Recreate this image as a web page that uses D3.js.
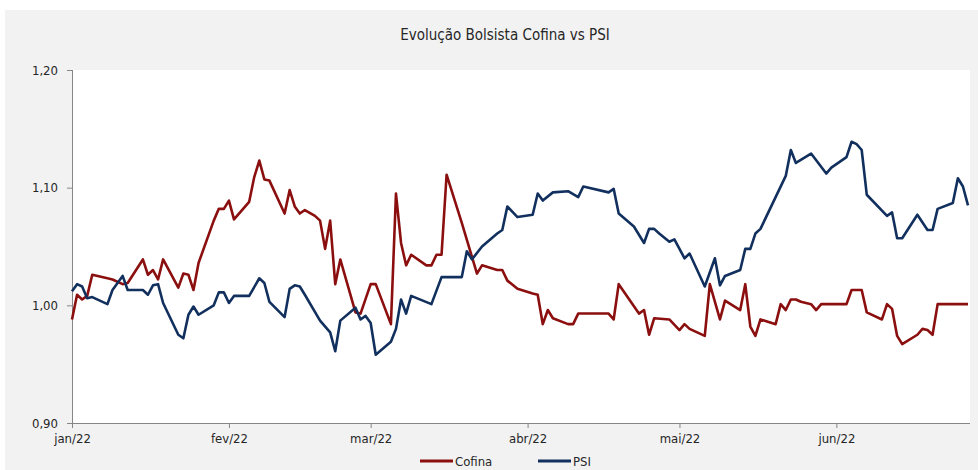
<!DOCTYPE html>
<html>
<head>
<meta charset="utf-8">
<script src="https://cdn.jsdelivr.net/npm/d3@7"></script>
<style>
  body { margin: 0; background: #fff; }
  text { font-family: "Liberation Sans Narrow", "Arial Narrow", "DejaVu Sans Condensed", sans-serif; fill: #262626; }
</style>
</head>
<body>
<div id="chart"></div>
<script>
// Evolução bolsista Cofina vs PSI (base 1)

const cofinaDates = ["2022-01-03","2022-01-04","2022-01-05","2022-01-06","2022-01-07","2022-01-10","2022-01-11","2022-01-13","2022-01-14","2022-01-17","2022-01-18","2022-01-19","2022-01-20","2022-01-21","2022-01-24","2022-01-25","2022-01-26","2022-01-27","2022-01-28","2022-01-31",
  "2022-02-01","2022-02-02","2022-02-03","2022-02-04","2022-02-07","2022-02-08","2022-02-09","2022-02-10","2022-02-11","2022-02-14","2022-02-15","2022-02-16","2022-02-17","2022-02-18","2022-02-20","2022-02-21","2022-02-22","2022-02-23","2022-02-24","2022-02-25","2022-02-28",
  "2022-03-01","2022-03-03","2022-03-04","2022-03-07","2022-03-08","2022-03-09","2022-03-10","2022-03-11","2022-03-14","2022-03-15","2022-03-16","2022-03-17","2022-03-18","2022-03-21","2022-03-24","2022-03-25","2022-03-28","2022-03-29","2022-03-30",
  "2022-04-01","2022-04-04","2022-04-05","2022-04-06","2022-04-07","2022-04-08","2022-04-11","2022-04-12","2022-04-13","2022-04-19","2022-04-20","2022-04-21","2022-04-25","2022-04-26","2022-04-27","2022-04-28",
  "2022-05-01","2022-05-03","2022-05-04","2022-05-05","2022-05-08","2022-05-09","2022-05-11","2022-05-12","2022-05-15","2022-05-16","2022-05-17","2022-05-18","2022-05-19","2022-05-22","2022-05-23","2022-05-24","2022-05-25","2022-05-26","2022-05-27","2022-05-29","2022-05-30","2022-05-31",
  "2022-06-05","2022-06-06","2022-06-08","2022-06-09","2022-06-12","2022-06-13","2022-06-14","2022-06-15","2022-06-16","2022-06-19","2022-06-20","2022-06-21","2022-06-22","2022-06-23","2022-06-29"];
const cofinaValues = [0.988,1.009,1.005,1.008,1.026,1.023,1.022,1.018,1.019,1.039,1.026,1.030,1.022,1.039,1.015,1.027,1.026,1.013,1.036,1.072,
  1.082,1.082,1.089,1.073,1.088,1.109,1.123,1.107,1.106,1.078,1.098,1.084,1.078,1.081,1.076,1.072,1.048,1.072,1.018,1.039,0.994,
  0.993,1.018,1.018,0.984,1.095,1.053,1.034,1.043,1.034,1.034,1.043,1.043,1.111,1.070,1.027,1.034,1.030,1.030,1.021,
  1.014,1.010,1.009,0.984,0.996,0.989,0.984,0.984,0.993,0.993,0.988,1.018,0.993,0.996,0.975,0.989,
  0.988,0.979,0.984,0.980,0.974,1.018,0.988,1.004,0.996,1.018,0.982,0.974,0.988,0.984,1.001,0.996,1.005,1.005,1.003,1.001,0.996,1.001,
  1.001,1.013,1.013,0.994,0.988,1.001,0.997,0.974,0.967,0.975,0.980,0.979,0.975,1.001,1.001];

const psiDates = ["2022-01-03","2022-01-04","2022-01-05","2022-01-06","2022-01-07","2022-01-10","2022-01-11","2022-01-13","2022-01-14","2022-01-17","2022-01-18","2022-01-19","2022-01-20","2022-01-21","2022-01-24","2022-01-25","2022-01-26","2022-01-27","2022-01-28","2022-01-31",
  "2022-02-01","2022-02-02","2022-02-03","2022-02-04","2022-02-07","2022-02-09","2022-02-10","2022-02-11","2022-02-14","2022-02-15","2022-02-16","2022-02-17","2022-02-18","2022-02-21","2022-02-23","2022-02-24","2022-02-25","2022-02-28",
  "2022-03-01","2022-03-02","2022-03-03","2022-03-04","2022-03-07","2022-03-08","2022-03-09","2022-03-10","2022-03-11","2022-03-15","2022-03-17","2022-03-21","2022-03-22","2022-03-23","2022-03-25","2022-03-28","2022-03-29","2022-03-30",
  "2022-04-01","2022-04-04","2022-04-05","2022-04-06","2022-04-08","2022-04-11","2022-04-13","2022-04-14","2022-04-19","2022-04-20","2022-04-21","2022-04-24","2022-04-26","2022-04-27","2022-04-28","2022-04-29",
  "2022-05-01","2022-05-02","2022-05-04","2022-05-05","2022-05-08","2022-05-10","2022-05-11","2022-05-12","2022-05-15","2022-05-16","2022-05-17","2022-05-18","2022-05-19","2022-05-24","2022-05-25","2022-05-26","2022-05-29",
  "2022-06-01","2022-06-02","2022-06-05","2022-06-06","2022-06-07","2022-06-08","2022-06-09","2022-06-13","2022-06-14","2022-06-15","2022-06-16","2022-06-19","2022-06-21","2022-06-22","2022-06-23","2022-06-26","2022-06-27","2022-06-28","2022-06-29"];
const psiValues = [1.012,1.018,1.016,1.006,1.007,1.001,1.013,1.025,1.013,1.013,1.009,1.017,1.018,1.002,0.975,0.972,0.992,0.999,0.992,1.000,
  1.011,1.011,1.002,1.008,1.008,1.023,1.019,1.003,0.990,1.014,1.017,1.016,1.009,0.987,0.977,0.961,0.987,0.998,
  0.988,0.991,0.985,0.958,0.969,0.980,1.005,0.993,1.008,1.001,1.024,1.024,1.046,1.039,1.050,1.061,1.064,1.084,
  1.075,1.077,1.095,1.089,1.096,1.097,1.092,1.101,1.096,1.099,1.078,1.067,1.053,1.065,1.065,1.061,
  1.054,1.056,1.040,1.044,1.016,1.040,1.017,1.025,1.030,1.048,1.048,1.061,1.065,1.110,1.132,1.121,1.129,
  1.112,1.117,1.126,1.139,1.137,1.132,1.094,1.076,1.079,1.057,1.057,1.077,1.064,1.064,1.082,1.087,1.108,1.101,1.085];

const tickDates = ["2022-01-03","2022-02-03","2022-03-03","2022-04-03","2022-05-03","2022-06-03"];
const tickLabels = ["jan/22","fev/22","mar/22","abr/22","mai/22","jun/22"];
const yTicks = [0.90, 1.00, 1.10, 1.20];
const seriesNames = ["Cofina", "PSI"];
const seriesColors = ["#8b0f0f", "#12305e"];

const parseDate = d3.timeParse("%Y-%m-%d");
const pt = d3.formatLocale({ decimal: ",", thousands: ".", grouping: [3], currency: ["", " €"] });

// --- Kích thước ---
const W = 978, H = 470;
const margin = { top: 70, right: 8, bottom: 47, left: 72 },
      width = W - margin.left - margin.right,
      height = H - margin.top - margin.bottom;

const svg = d3.select("#chart").append("svg")
  .attr("width", W)
  .attr("height", H);

// fundo cinzento
svg.append("rect")
  .attr("x", 5).attr("y", 10)
  .attr("width", W - 5).attr("height", H - 10)
  .attr("fill", "#f2f2f2");

svg.append("text")
  .attr("x", 505).attr("y", 40)
  .attr("text-anchor", "middle")
  .style("font-size", "15px")
  .text("Evolução Bolsista Cofina vs PSI");

const g = svg.append("g")
  .attr("transform", `translate(${margin.left},${margin.top})`);

g.append("rect")
  .attr("width", width).attr("height", height)
  .attr("fill", "#ffffff");

// --- Scales ---
const x = d3.scaleTime()
  .domain([parseDate(cofinaDates[0]), parseDate(cofinaDates[cofinaDates.length - 1])])
  .range([0, width - 2]);

const y = d3.scaleLinear()
  .domain([0.9, 1.2])
  .range([height, 0]);

// --- Axes ---
const xAxis = g.append("g")
  .attr("transform", `translate(0,${height})`)
  .call(d3.axisBottom(x)
    .tickValues(tickDates.map(parseDate))
    .tickSize(5)
    .tickFormat((d, i) => tickLabels[i]));
xAxis.select(".domain").attr("stroke", "#868686").attr("d", `M0,0.5H${width}`);
xAxis.selectAll(".tick line").attr("stroke", "#868686");
xAxis.selectAll(".tick text")
  .attr("dy", "0.95em")
  .style("font-size", "13px");

const yAxis = g.append("g")
  .call(d3.axisLeft(y)
    .tickValues(yTicks)
    .tickSize(5)
    .tickFormat(pt.format(".2f")));
yAxis.select(".domain").attr("stroke", "#868686").attr("d", `M0.5,0V${height}`);
yAxis.selectAll(".tick line").attr("stroke", "#868686");
yAxis.selectAll(".tick text")
  .attr("x", -14)
  .style("font-size", "13px");

// --- Lines ---
const line = d3.line()
  .x(d => x(d.date))
  .y(d => y(d.value));

const series = [
  { name: seriesNames[0], color: seriesColors[0],
    values: cofinaDates.map((d, i) => ({ date: parseDate(d), value: cofinaValues[i] })) },
  { name: seriesNames[1], color: seriesColors[1],
    values: psiDates.map((d, i) => ({ date: parseDate(d), value: psiValues[i] })) }
];

g.selectAll(".line")
  .data(series)
  .enter()
  .append("path")
    .attr("class", "line")
    .attr("fill", "none")
    .attr("stroke", d => d.color)
    .attr("stroke-width", 2.6)
    .attr("stroke-linejoin", "round")
    .attr("d", d => line(d.values));

// --- Legend ---
const legendX = [420, 538];
series.forEach((s, i) => {
  const l = svg.append("g").attr("transform", `translate(${legendX[i]},461)`);
  l.append("line")
    .attr("x1", 0).attr("x2", 33)
    .attr("stroke", s.color)
    .attr("stroke-width", 3);
  l.append("text")
    .attr("x", 35).attr("y", 5)
    .style("font-size", "13px")
    .text(s.name);
});
</script>
</body>
</html>
